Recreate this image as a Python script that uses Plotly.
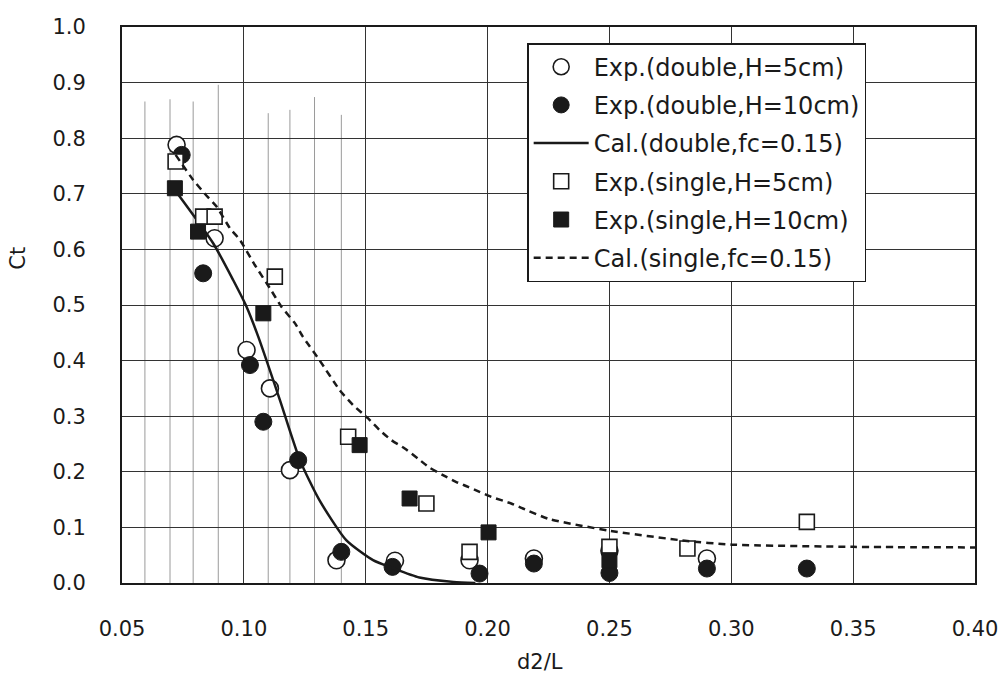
import plotly.graph_objects as go

# ---- data ----
dbl5_x = [0.0724, 0.088, 0.1011, 0.1107, 0.1189, 0.138, 0.162, 0.1926, 0.219, 0.25, 0.29]
dbl5_y = [0.788, 0.62, 0.419, 0.35, 0.203, 0.041, 0.04, 0.041, 0.044, 0.058, 0.044]

dbl10_x = [0.0745, 0.0833, 0.1025, 0.108, 0.1223, 0.14, 0.161, 0.1967, 0.219, 0.25, 0.29, 0.331]
dbl10_y = [0.77, 0.557, 0.392, 0.29, 0.221, 0.056, 0.029, 0.017, 0.035, 0.018, 0.026, 0.026]

cal_dbl_x = [0.072, 0.0874, 0.0956, 0.1011, 0.1059, 0.1148, 0.123, 0.131,
             0.142, 0.153, 0.161, 0.172, 0.186, 0.195]
cal_dbl_y = [0.705, 0.611, 0.545, 0.497, 0.443, 0.329, 0.221, 0.149,
             0.077, 0.041, 0.027, 0.01, 0.002, 0.0]

sgl5_x = [0.072, 0.0833, 0.088, 0.1127, 0.1428, 0.1749, 0.1926, 0.25, 0.282, 0.331]
sgl5_y = [0.758, 0.659, 0.659, 0.551, 0.263, 0.143, 0.056, 0.065, 0.062, 0.11]

sgl10_x = [0.0717, 0.0812, 0.108, 0.1475, 0.168, 0.2004, 0.25]
sgl10_y = [0.71, 0.632, 0.485, 0.248, 0.152, 0.091, 0.041]

cal_sgl_x = [0.072, 0.0792, 0.084, 0.0888, 0.0943, 0.0984, 0.1045, 0.1107, 0.1154, 0.121,
             0.1242, 0.131, 0.1393, 0.1448, 0.151, 0.1557, 0.1605, 0.166, 0.1714, 0.176,
             0.1817, 0.187, 0.192, 0.1967, 0.2015, 0.2097, 0.2145, 0.2253, 0.25, 0.281,
             0.30, 0.35, 0.40]
cal_sgl_y = [0.77, 0.725, 0.70, 0.677, 0.638, 0.617, 0.572, 0.530, 0.497, 0.467,
             0.443, 0.401, 0.347, 0.320, 0.296, 0.275, 0.257, 0.242, 0.224, 0.208,
             0.194, 0.182, 0.173, 0.164, 0.155, 0.143, 0.134, 0.115, 0.094, 0.076,
             0.069, 0.065, 0.064]

names = ["Exp.(double,H=5cm)", "Exp.(double,H=10cm)", "Cal.(double,fc=0.15)",
         "Exp.(single,H=5cm)", "Exp.(single,H=10cm)", "Cal.(single,fc=0.15)"]

# partial fine vertical rulings seen in the scanned chart
minor_x = [0.0594, 0.0697, 0.0792, 0.0895, 0.11, 0.1189, 0.129, 0.14]
minor_top = [0.866, 0.87, 0.866, 0.896, 0.845, 0.851, 0.874, 0.842]

x_ticks = [0.05, 0.10, 0.15, 0.20, 0.25, 0.30, 0.35, 0.40]
y_ticks = [0.0, 0.1, 0.2, 0.3, 0.4, 0.5, 0.6, 0.7, 0.8, 0.9, 1.0]

INK = "#1a1a1a"
FONT = "DejaVu Sans"

fig = go.Figure()

for mx, mt in zip(minor_x, minor_top):
    fig.add_shape(type="line", xref="x", yref="y", x0=mx, x1=mx, y0=0, y1=mt,
                  line=dict(color="#9a9a9a", width=1), layer="below")

fig.add_trace(go.Scatter(x=dbl5_x, y=dbl5_y, mode="markers", name=names[0], legendgroup="a",
                         marker=dict(symbol="circle", size=17, color="white",
                                     line=dict(color=INK, width=1.6))))
fig.add_trace(go.Scatter(x=dbl10_x, y=dbl10_y, mode="markers", name=names[1], legendgroup="b",
                         marker=dict(symbol="circle", size=17, color=INK,
                                     line=dict(color=INK, width=1))))
fig.add_trace(go.Scatter(x=cal_dbl_x, y=cal_dbl_y, mode="lines", name=names[2], legendgroup="c",
                         line=dict(color=INK, width=2.5, shape="spline", smoothing=0.6)))
fig.add_trace(go.Scatter(x=sgl5_x, y=sgl5_y, mode="markers", name=names[3], legendgroup="d",
                         marker=dict(symbol="square", size=15, color="white",
                                     line=dict(color=INK, width=1.6))))
fig.add_trace(go.Scatter(x=sgl10_x, y=sgl10_y, mode="markers", name=names[4], legendgroup="e",
                         marker=dict(symbol="square", size=15, color=INK,
                                     line=dict(color=INK, width=1))))
fig.add_trace(go.Scatter(x=cal_sgl_x, y=cal_sgl_y, mode="lines", name=names[5], legendgroup="f",
                         line=dict(color=INK, width=2.5, dash="7px,5px", shape="spline", smoothing=0.5)))

fig.update_layout(
    width=1004, height=677,
    margin=dict(l=122, r=29, t=27, b=94, autoexpand=False),
    paper_bgcolor="white", plot_bgcolor="white",
    font=dict(family=FONT, size=21, color=INK),
    showlegend=True,
    legend=dict(x=0.475, y=0.971, xanchor="left", yanchor="top",
                bgcolor="white", bordercolor=INK, borderwidth=1.5,
                font=dict(family=FONT, size=24, color=INK),
                tracegroupgap=4, itemwidth=55),
    annotations=[
        dict(text="Ct", xref="paper", yref="paper", x=-0.122, y=0.585, showarrow=False,
             xanchor="center", yanchor="middle",
             textangle=-90, font=dict(family=FONT, size=21, color=INK)),
        dict(text="d2/L", xref="paper", yref="paper", x=0.49, y=-0.142, showarrow=False,
             xanchor="center", yanchor="middle",
             font=dict(family=FONT, size=21, color=INK)),
    ],
)

fig.update_xaxes(range=[0.05, 0.40], tickvals=x_ticks, ticktext=[f"{v:.2f}" for v in x_ticks],
                 showgrid=True, gridcolor="#333333", gridwidth=1.4,
                 showline=True, linecolor=INK, linewidth=1.8, mirror=True, automargin=False,
                 ticks="", ticklabelstandoff=26, zeroline=False)
fig.update_yaxes(range=[0, 1.0], tickvals=y_ticks, ticktext=[f"{v:.1f}" for v in y_ticks],
                 showgrid=True, gridcolor="#333333", gridwidth=1.4,
                 showline=True, linecolor=INK, linewidth=1.8, mirror=True, automargin=False,
                 ticks="", ticklabelstandoff=30, zeroline=False)

fig.write_html("out.html", config={"displayModeBar": False},
               post_script="document.body.style.margin='0';document.body.style.padding='0';")
